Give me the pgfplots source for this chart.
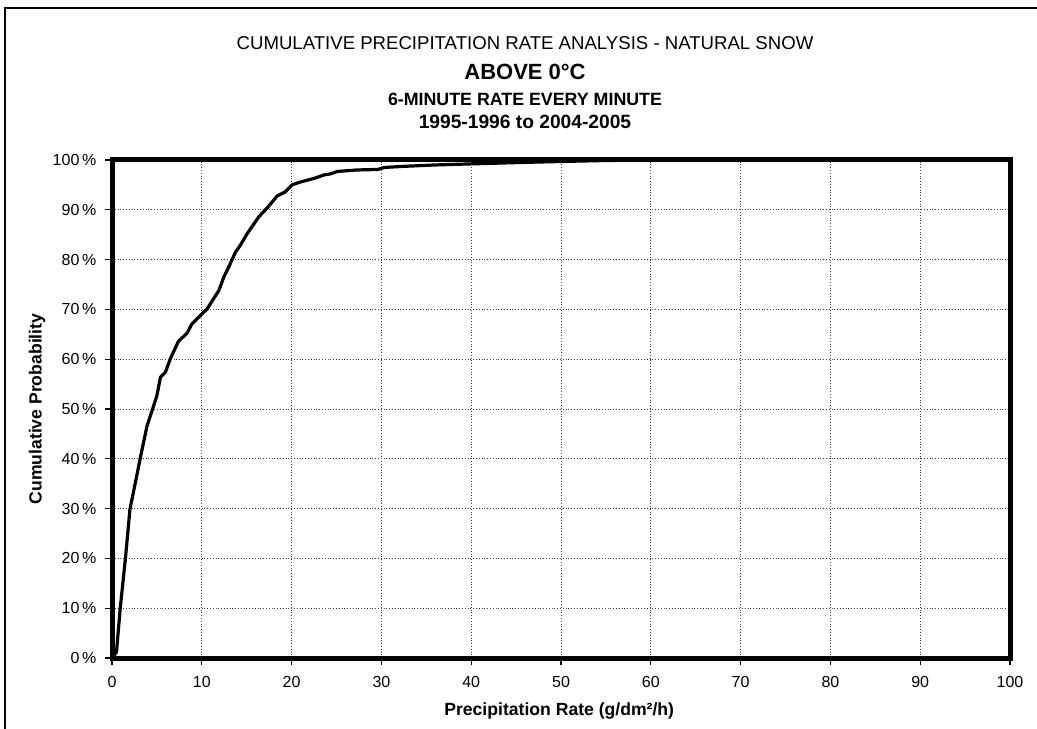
\documentclass[border=0pt]{standalone}
\usepackage{fontspec}
\setmainfont{Liberation Sans}
\usepackage{pgfplots}
\pgfplotsset{compat=1.18}
\begin{document}
\begin{tikzpicture}
\path[use as bounding box] (0,0) rectangle (518.5pt,364pt);
\draw[line width=1pt] (2.5pt,-2pt) -- (2.5pt,360pt) -- (530pt,360pt);
\node[inner sep=0,anchor=center,font=\fontsize{9.3}{11}\selectfont] at (262.5pt,342.4pt) {CUMULATIVE PRECIPITATION RATE ANALYSIS - NATURAL SNOW};
\node[inner sep=0,anchor=center,font=\fontsize{11}{13}\selectfont\bfseries] at (262.5pt,327.8pt) {ABOVE 0°C};
\node[inner sep=0,anchor=center,font=\fontsize{8.9}{11}\selectfont\bfseries] at (262.5pt,314.5pt) {6-MINUTE RATE EVERY MINUTE};
\node[inner sep=0,anchor=center,font=\fontsize{9.6}{11}\selectfont\bfseries] at (262.5pt,303pt) {1995-1996 to 2004-2005};
\begin{axis}[
  at={(56pt,35pt)}, anchor=south west,
  scale only axis, width=449pt, height=249pt,
  xmin=0, xmax=100, ymin=0, ymax=100,
  xtick={0,10,...,100}, ytick={0,10,...,100},
  xtick pos=bottom, ytick pos=left,
  tick align=outside, major tick length=3.3pt,
  tick style={black, line width=0.6pt},
  axis line style={line width=2.5pt},
  grid=major,
  major grid style={densely dotted, black!75, line width=0.5pt},
  /pgf/number format/assume math mode=true,
  ticklabel style={font=\fontsize{8}{10}\selectfont},
  yticklabel={\pgfmathprintnumber{\tick}\,\%},
  y tick label style={xshift=-1pt},
  x tick label style={yshift=-2.5pt},
  xlabel={Precipitation Rate (g/dm²/h)},
  ylabel={Cumulative Probability},
  label style={font=\fontsize{8.8}{10}\selectfont\bfseries},
  xlabel style={at={(axis description cs:0.498,-0.106)}, anchor=center},
  ylabel style={at={(axis description cs:-0.0835,0.5)}, anchor=center},
]
\addplot[black, line width=1.6pt, line join=round] coordinates {
(0,0) (0.5,1.2) (0.9,9.7) (1.5,20.1) (2.0,29.9) (2.6,35.2) (3.2,40.6)
(3.9,46.6) (4.65,50.7) (5.0,52.7) (5.4,56.4) (5.95,57.4) (6.5,60.1)
(7.4,63.6) (8.35,65.2) (8.9,67.1) (9.85,68.8) (10.6,70.1) (11.3,72.1)
(11.9,73.8) (12.45,76.5) (13.0,78.5) (13.75,81.5) (14.3,82.9) (15.05,85.2)
(16.35,88.6) (17.3,90.4) (18.4,92.8) (19.3,93.6) (20.05,95.0) (21.0,95.6)
(22.5,96.3) (23.6,97.0) (24.3,97.2) (25.1,97.7) (27.3,98.0) (29.6,98.1)
(30.3,98.5) (32.2,98.7) (35.9,99.0) (39.6,99.2) (45.5,99.5) (50,99.7)
(55,99.9) (60,100) (100,100)
};
\end{axis}
\end{tikzpicture}
\end{document}
